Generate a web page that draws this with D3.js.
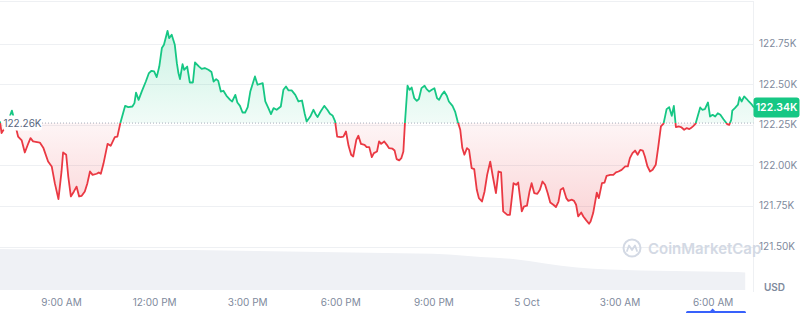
<!DOCTYPE html>
<html>
<head>
<meta charset="utf-8">
<script src="https://cdn.jsdelivr.net/npm/d3@7"></script>
<style>
  html, body { margin: 0; padding: 0; background: #fff; }
  svg { display: block; font-family: Inter, "Noto Sans", sans-serif; }
</style>
</head>
<body>
<svg id="chart" width="800" height="313"></svg>
<script>
// ---- data ----
// minutes since 00:00 on 4 Oct
const minutes = [422,425,436,445,448,452,457,464,470,477,481,486,499,506,515,522,528,535,541,544,550,554,559,565,570,575,580,586,591,596,601,609,613,617,622,630,636,644,649,655,664,670,678,682,685,690,696,704,710,715,720,725,730,735,739,746,749,754,757,760,764,767,770,775,778,784,789,795,799,807,812,818,825,831,835,840,844,849,854,860,867,871,877,881,886,891,896,901,906,915,920,930,935,941,946,951,957,965,970,975,980,986,993,999,1006,1011,1015,1022,1028,1033,1036,1042,1049,1055,1060,1065,1070,1074,1081,1086,1091,1096,1101,1105,1111,1115,1120,1127,1131,1136,1141,1145,1151,1155,1159,1165,1170,1174,1181,1185,1189,1194,1198,1202,1205,1210,1214,1218,1223,1228,1232,1237,1243,1247,1252,1257,1262,1267,1271,1276,1281,1286,1290,1297,1302,1307,1312,1316,1320,1325,1329,1334,1339,1344,1348,1354,1359,1364,1370,1375,1381,1386,1391,1395,1403,1408,1415,1420,1424,1431,1435,1441,1446,1450,1455,1461,1466,1471,1476,1481,1486,1492,1497,1502,1506,1511,1517,1521,1528,1532,1536,1540,1546,1550,1555,1561,1564,1569,1576,1580,1586,1591,1595,1602,1608,1613,1618,1624,1631,1636,1640,1645,1650,1655,1660,1665,1669,1674,1679,1684,1690,1695,1700,1705,1708,1711,1716,1721,1725,1729,1735,1740,1745,1750,1755,1758,1763,1767,1771,1776,1780,1785,1791,1795,1800,1805,1810,1815,1821,1828,1832,1836,1838,1843,1849,1852,1856,1861,1866,1870,1876,1880];
const prices = [122270,122198,122256,122337,122300,122243,122177,122153,122079,122137,122167,122147,122140,122106,122023,121993,121890,121792,121962,122079,122065,121931,121808,121839,121869,121808,121812,121839,121890,121962,121941,121948,121956,121948,122009,122132,122120,122174,122177,122264,122366,122358,122362,122383,122448,122403,122454,122516,122568,122582,122578,122543,122608,122722,122742,122828,122783,122804,122773,122742,122629,122568,122531,122623,122588,122608,122510,122510,122633,122608,122594,122599,122588,122574,122516,122531,122520,122454,122459,122428,122403,122393,122434,122387,122366,122325,122325,122358,122454,122547,122496,122506,122393,122352,122315,122352,122342,122362,122465,122485,122461,122461,122434,122393,122399,122321,122270,122300,122342,122311,122297,122331,122366,122342,122317,122307,122270,122177,122174,122177,122208,122120,122065,122054,122157,122182,122132,122126,122112,122112,122050,122075,122085,122147,122132,122147,122126,122106,122102,122091,122038,122030,122044,122085,122260,122490,122465,122479,122414,122397,122408,122475,122490,122469,122454,122465,122475,122414,122403,122434,122454,122428,122393,122366,122331,122270,122219,122106,122065,122106,122095,121983,121977,121849,121798,121777,121839,121941,122023,121931,121829,121962,121956,121716,121695,121695,121890,121880,121894,121716,121746,121751,121839,121890,121829,121824,121849,121900,121880,121829,121771,121757,121743,121777,121849,121860,121798,121781,121788,121781,121757,121685,121709,121685,121664,121640,121654,121706,121832,121798,121890,121894,121935,121941,121941,121956,121962,121972,121993,121993,122044,122075,122091,122065,122095,122091,122054,121993,121962,121972,122003,122116,122239,122256,122300,122346,122358,122305,122366,122235,122239,122233,122219,122229,122223,122229,122243,122256,122300,122356,122342,122346,122387,122300,122311,122300,122321,122311,122284,122254,122249,122280,122337,122352,122373,122420,122393,122424,122408,122393,122373,122356];
const openPrice = 122260;     // reference line (first price of the period)
const currentPrice = 122340;  // shown in the green tag
// hourly 24h volume (billions USD)
const volumeHours = [422,484,546,608,670,732,794,856,918,980,1042,1104,1166,1228,1290,1352,1414,1476,1538,1600,1662,1724,1786,1848,1863];
const volumes = [62.0,61.5,61.2,61.2,60.8,60.5,60.5,59.7,59.0,58.2,57.5,56.7,55.9,55.2,53.7,49.9,46.9,40.1,34.0,31.0,29.5,28.7,28.0,27.2,26.5];
const yTicks = [121500,121750,122000,122250,122500,122750];
const xTickMinutes = [540,720,900,1080,1260,1440,1620,1800];
const xTickLabels = ["9:00 AM","12:00 PM","3:00 PM","6:00 PM","9:00 PM","5 Oct","3:00 AM","6:00 AM"];

// ---- helpers ----
const t = m => new Date(2025, 9, 4, 0, m);
const data = minutes.map((m, i) => ({ t: t(m), v: prices[i] }));
const vol = volumeHours.map((m, i) => ({ t: t(m), v: volumes[i] }));

const svg = d3.select("#chart");
const plotRight = 753.5;
const green = "#16c784", red = "#ea3943";
const fs = 10;

const x = d3.scaleTime().domain([t(422), t(1880)]).range([0, 754]);
const y = d3.scaleLinear().domain([121500, 122750]).range([246.5, 43.5]);
const yv = d3.scaleLinear().domain([0, 65]).range([290, 247]);

// defs
const defs = svg.append("defs");
const yBase = y(openPrice);
const gG = defs.append("linearGradient").attr("id", "gGreen")
  .attr("gradientUnits", "userSpaceOnUse").attr("x1", 0).attr("x2", 0)
  .attr("y1", y(d3.max(prices))).attr("y2", yBase);
gG.append("stop").attr("offset", 0).attr("stop-color", green).attr("stop-opacity", 0.22);
gG.append("stop").attr("offset", 1).attr("stop-color", green).attr("stop-opacity", 0.06);
const gR = defs.append("linearGradient").attr("id", "gRed")
  .attr("gradientUnits", "userSpaceOnUse").attr("x1", 0).attr("x2", 0)
  .attr("y1", yBase).attr("y2", y(d3.min(prices)));
gR.append("stop").attr("offset", 0).attr("stop-color", red).attr("stop-opacity", 0.05);
gR.append("stop").attr("offset", 1).attr("stop-color", red).attr("stop-opacity", 0.22);
defs.append("clipPath").attr("id", "above").append("rect")
  .attr("x", -5).attr("y", 0).attr("width", 770).attr("height", yBase);
defs.append("clipPath").attr("id", "below").append("rect")
  .attr("x", -5).attr("y", yBase).attr("width", 770).attr("height", 300 - yBase);

// volume area
svg.append("path").datum(vol)
  .attr("fill", "#eff1f5")
  .attr("d", d3.area().x(d => x(d.t)).y0(yv(0)).y1(d => yv(d.v)).curve(d3.curveMonotoneX));

// grid
svg.append("line").attr("x1", 0).attr("x2", plotRight).attr("y1", 1.5).attr("y2", 1.5)
  .attr("stroke", "#eef0f3");
svg.append("line").attr("x1", plotRight).attr("x2", plotRight).attr("y1", 1).attr("y2", 292)
  .attr("stroke", "#eef0f3");
svg.append("g").selectAll("line").data(yTicks).join("line")
  .attr("x1", 0).attr("x2", plotRight)
  .attr("y1", d => Math.round(y(d)) + 0.5).attr("y2", d => Math.round(y(d)) + 0.5)
  .attr("stroke", "#eef0f3");

// watermark
const wm = svg.append("g").attr("transform", "translate(632,248)");
wm.append("circle").attr("r", 8.5).attr("fill", "none").attr("stroke", "#d3d9e4").attr("stroke-width", 2);
wm.append("path").attr("d", "M-5,3 L-3,-2.5 L0,2 L3,-2.5 L5,3")
  .attr("fill", "none").attr("stroke", "#d3d9e4").attr("stroke-width", 1.8)
  .attr("stroke-linejoin", "round").attr("stroke-linecap", "round");
svg.append("text").attr("x", 648).attr("y", 253.5).text("CoinMarketCap")
  .attr("font-size", 15).attr("font-weight", 600).attr("fill", "#d3d9e4");

// areas
const area = d3.area().x(d => x(d.t)).y0(yBase).y1(d => y(d.v));
svg.append("path").datum(data).attr("clip-path", "url(#above)")
  .attr("fill", "url(#gGreen)").attr("d", area);
svg.append("path").datum(data).attr("clip-path", "url(#below)")
  .attr("fill", "url(#gRed)").attr("d", area);

// baseline
svg.append("line").attr("x1", 0).attr("x2", plotRight).attr("y1", yBase).attr("y2", yBase)
  .attr("stroke", "#a6acba").attr("stroke-width", 1).attr("stroke-dasharray", "1,2");

// lines
const line = d3.line().x(d => x(d.t)).y(d => y(d.v));
svg.append("path").datum(data).attr("clip-path", "url(#above)")
  .attr("fill", "none").attr("stroke", green).attr("stroke-width", 1.8)
  .attr("stroke-linejoin", "round").attr("d", line);
svg.append("path").datum(data).attr("clip-path", "url(#below)")
  .attr("fill", "none").attr("stroke", red).attr("stroke-width", 1.8)
  .attr("stroke-linejoin", "round").attr("d", line);

// y axis labels
const fmtK = v => (v / 1000).toFixed(2) + "K";
svg.append("g").selectAll("text").data(yTicks).join("text")
  .attr("x", 759).attr("y", d => y(d)).attr("dy", "0.35em")
  .attr("font-size", fs).attr("fill", "#808a9d").text(fmtK);
svg.append("text").attr("x", 764).attr("y", 287).attr("dy", "0.35em")
  .attr("font-size", fs).attr("font-weight", 600).attr("fill", "#808a9d").text("USD");

// x axis labels
const xAxis = d3.axisBottom(x).tickValues(xTickMinutes.map(t))
  .tickFormat((d, i) => xTickLabels[i]).tickSize(0).tickPadding(0);
const gx = svg.append("g").attr("transform", "translate(0,299)").call(xAxis);
gx.select(".domain").remove();
gx.selectAll("text").attr("font-size", fs).attr("fill", "#808a9d")
  .attr("font-family", "Inter, 'Noto Sans', sans-serif");

// open price tag (left)
const lt = svg.append("g");
lt.append("rect").attr("x", 3).attr("y", yBase - 7.5).attr("width", 39).attr("height", 15)
  .attr("rx", 3).attr("fill", "#fff");
lt.append("text").attr("x", 22.5).attr("y", yBase).attr("dy", "0.35em").attr("text-anchor", "middle")
  .attr("font-size", fs).attr("fill", "#58667e").text(fmtK(openPrice));

// current price tag (right)
const lastY = y(prices[prices.length - 1]);
const rt = svg.append("g");
rt.append("rect").attr("x", 753.5).attr("y", lastY - 10).attr("width", 46).attr("height", 20)
  .attr("rx", 3).attr("fill", green);
rt.append("text").attr("x", 776.5).attr("y", lastY).attr("dy", "0.35em").attr("text-anchor", "middle")
  .attr("font-size", fs + 0.5).attr("font-weight", 600).attr("fill", "#fff").text(fmtK(currentPrice));

// range indicator at the bottom
const ind = svg.append("g").attr("fill", "#3861fb");
ind.append("rect").attr("x", 686).attr("y", 311).attr("width", 60).attr("height", 3).attr("rx", 1.5);
ind.append("path").attr("d", `M${x(t(1800)) - 3},311.5 L${x(t(1800))},308.5 L${x(t(1800)) + 3},311.5 Z`);
</script>
</body>
</html>
